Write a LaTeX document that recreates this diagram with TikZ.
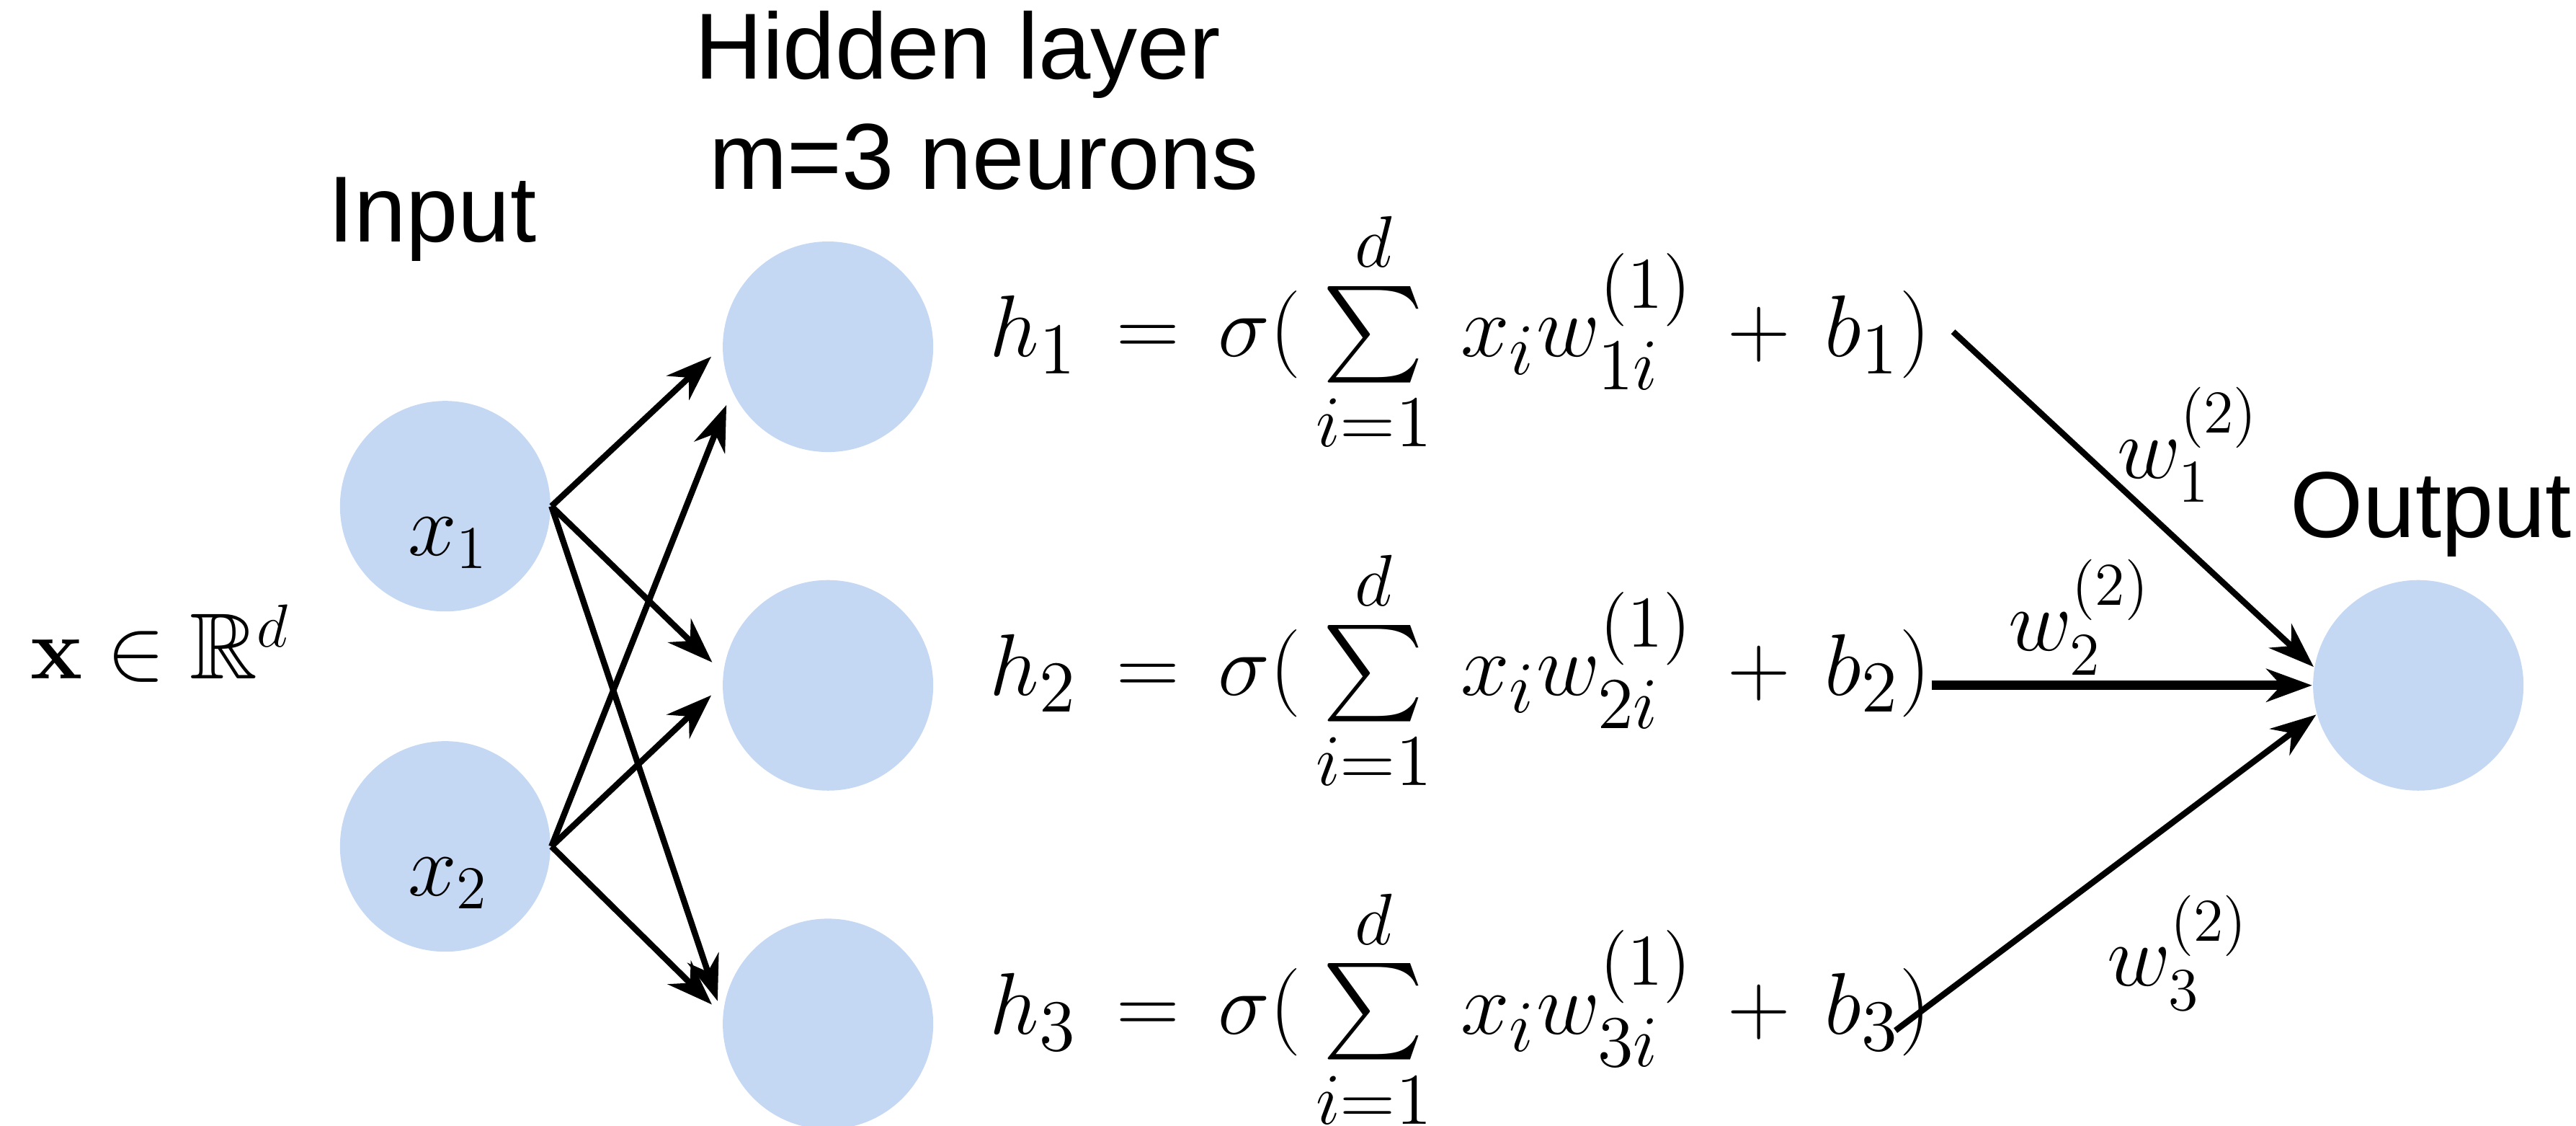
\documentclass[tikz,border=0pt]{standalone}
\usepackage{amsmath}
\usepackage{amssymb}
\usepackage[no-math]{fontspec}
\setmainfont{Liberation Sans}
\usetikzlibrary{arrows.meta}
\definecolor{neuronblue}{RGB}{196,215,243}

\begin{document}
\begin{tikzpicture}[x=0.0114cm, y=-0.0114cm,
    neuron/.style={circle, fill=neuronblue, minimum size=1.46cm, inner sep=0pt},
    txt/.style={font=\fontsize{18.5}{22}\selectfont, inner sep=0pt},
    eq/.style={font=\fontsize{19}{23}\selectfont, inner sep=0pt, anchor=base west},
    wire/.style={-{Stealth[length=9pt, width=6.5pt]}, line width=1.2pt}]
    \useasboundingbox (0,0) rectangle (1568,685);

    % Layer labels
    \node[txt, anchor=base] (inlab) at (263,147) {Input};
    \node[txt, anchor=base] (hidlab) at (583,48) {Hidden layer};
    \node[txt, anchor=base] (hidnum) at (599,115) {m=3 neurons};
    \node[txt, anchor=base east] (outlab) at (1566,327) {Output};
    \node[txt, anchor=base west] (xvec) at (18,413) {$\mathbf{x} \in \mathbb{R}^d$};

    % Input layer
    \foreach \i/\y in {1/308, 2/515} {
        \node[neuron] (x\i) at (271,\y) {};
        \node[txt, anchor=base] (x\i lab) at (273,{\y+30}) {$x_\i$};
    }

    % Hidden layer
    \foreach \i/\y in {1/211, 2/417, 3/623} {
        \node[neuron] (h\i) at (504,\y) {};
        \node[eq] (f\i) at (602,{\y+6})
            {$h_\i \,=\, \sigma(\,\sum\limits_{i=1}^{d} \, x_i w_{\i i}^{(1)} \,+\, b_\i)$};
    }

    % Output
    \node[neuron] (out) at (1472,417) {};

    % Input -> hidden
    \foreach \s/\t/\a in {x1/h1/180, x2/h1/205, x1/h2/173, x2/h2/180, x1/h3/175, x2/h3/175}
        \draw[wire, shorten >=0.1cm] (\s.east) -- (\t.\a);

    % Hidden -> output
    \draw[wire] ([xshift=0.15cm]f1.east) -- (out.170);
    \draw[wire, line width=1.8pt] (f2.east |- out.west) -- (out.west);
    \draw[wire] ([xshift=-0.25cm, yshift=-0.15cm]f3.east) -- (out.196);

    % Weights
    \node[txt, anchor=base west] (w1) at (1288,291) {$w_1^{(2)}$};
    \node[txt, anchor=base west] (w2) at (1222,396) {$w_2^{(2)}$};
    \node[txt, anchor=base west] (w3) at (1282,600) {$w_3^{(2)}$};
\end{tikzpicture}
\end{document}
